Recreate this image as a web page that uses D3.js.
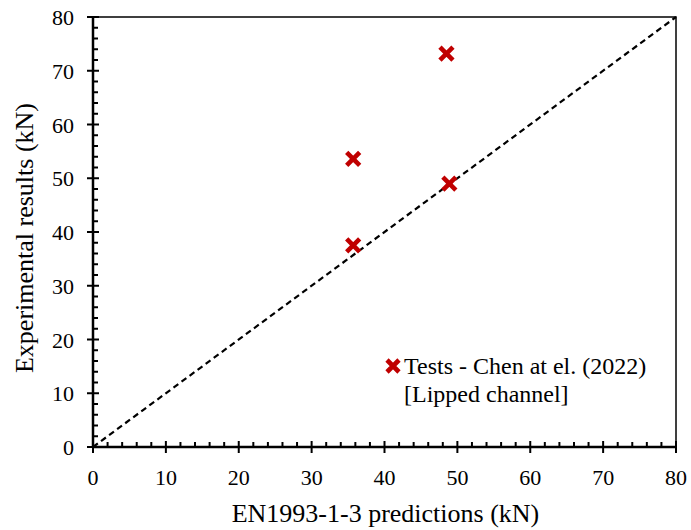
<!DOCTYPE html>
<html><head><meta charset="utf-8">
<script src="https://cdn.jsdelivr.net/npm/d3@7"></script>
<style>body{margin:0;background:#fff}</style>
</head><body><div id="c"></div>
<script>
const predictions = [48.5, 35.7, 48.9, 35.7];
const experiments = [73.2, 53.6, 49.0, 37.5];
const xTicks = [0,10,20,30,40,50,60,70,80];
const yTicks = [0,10,20,30,40,50,60,70,80];
const minorTicks = d3.range(0, 81, 2);
const legendLines = ["Tests - Chen at el. (2022)", "[Lipped channel]"];
const xTitle = "EN1993-1-3 predictions (kN)";
const yTitle = "Experimental results (kN)";

const FF="'Liberation Serif', 'Times New Roman', Tinos, serif";
const W=691,H=530, L=93,R=676,T=17,B=447;
const svg=d3.select("#c").append("svg").attr("width",W).attr("height",H).style("font-family",FF);
const x=d3.scaleLinear().domain([0,80]).range([L,R]);
const y=d3.scaleLinear().domain([0,80]).range([B,T]);

svg.append("rect").attr("x",L).attr("y",T).attr("width",R-L).attr("height",B-T).attr("fill","none").attr("stroke","#000").attr("stroke-width",1.5);

const g=svg.append("g").attr("stroke","#000").attr("stroke-width",2);
minorTicks.filter(v=>v%10!==0).forEach(v=>{
  g.append("line").attr("x1",x(v)).attr("x2",x(v)).attr("y1",B).attr("y2",B-5);
  g.append("line").attr("x1",L).attr("x2",L+5).attr("y1",y(v)).attr("y2",y(v));
});
xTicks.forEach(v=>{ g.append("line").attr("x1",x(v)).attr("x2",x(v)).attr("y1",B-6).attr("y2",B+6); });
yTicks.forEach(v=>{ g.append("line").attr("x1",L-6).attr("x2",L+6).attr("y1",y(v)).attr("y2",y(v)); });
svg.append("line").attr("x1",L).attr("x2",R).attr("y1",B).attr("y2",B).attr("stroke","#000").attr("stroke-width",2.5);
svg.append("line").attr("x1",L).attr("x2",L).attr("y1",T).attr("y2",B).attr("stroke","#000").attr("stroke-width",2.5);

svg.selectAll(".xl").data(xTicks).join("text").attr("font-family",FF).attr("x",d=>x(d)).attr("y",B+38).attr("text-anchor","middle").attr("font-size",22).text(d=>d);
svg.selectAll(".yl").data(yTicks).join("text").attr("font-family",FF).attr("x",L-19).attr("y",d=>y(d)+8).attr("text-anchor","end").attr("font-size",22).text(d=>d);

svg.append("text").attr("font-family",FF).attr("x",(L+R)/2+1).attr("y",522).attr("text-anchor","middle").attr("font-size",26).text(xTitle);
svg.append("text").attr("font-family",FF).attr("transform",`translate(33,238) rotate(-90)`).attr("text-anchor","middle").attr("font-size",26).text(yTitle);

svg.append("line").attr("x1",x(0)).attr("y1",y(0)).attr("x2",x(80)).attr("y2",y(80)).attr("stroke","#000").attr("stroke-width",2.2).attr("stroke-dasharray","6,4");

const cross=(sel,cx,cy,s)=>{
  sel.append("path").attr("d",`M${cx-s},${cy-s}L${cx+s},${cy+s}M${cx-s},${cy+s}L${cx+s},${cy-s}`).attr("stroke","#c00000").attr("stroke-width",4.6).attr("fill","none");
};
const mg=svg.append("g");
predictions.forEach((p,i)=>cross(mg,x(p),y(experiments[i]),6.5));

cross(svg,393,366,6);
svg.append("text").attr("font-family",FF).attr("x",404).attr("y",374).attr("font-size",24).text(legendLines[0]);
svg.append("text").attr("font-family",FF).attr("x",404).attr("y",402).attr("font-size",24).text(legendLines[1]);
</script></body></html>
